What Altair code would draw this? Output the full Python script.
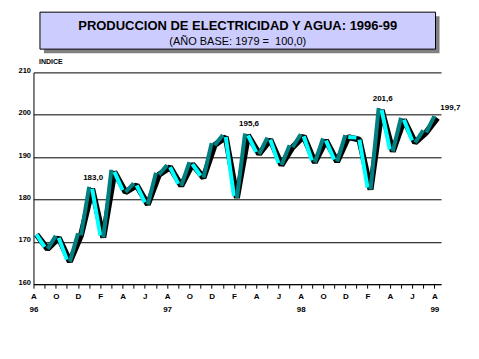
import json
import altair as alt
import pandas as pd

# ---- data ----
values = [172.2, 168.8, 171.4, 165.8, 172.0, 183.0, 171.5, 187.0, 182.2, 183.8,
          179.3, 186.3, 188.1, 183.7, 188.8, 185.6, 193.3, 195.2, 180.8, 195.6,
          191.2, 194.6, 188.6, 192.8, 195.4, 189.2, 194.4, 189.4, 195.2, 194.6,
          182.8, 201.6, 191.8, 199.3, 193.9, 196.3, 199.7]
month_letters = ["A", "S", "O", "N", "D", "E", "F", "M", "A", "M", "J", "J"]  # from August
year_labels = {0: "96", 12: "97", 24: "98", 36: "99"}
y_ticks = [160, 170, 180, 190, 200, 210]
annot_idx = [5, 19, 31]
end_idx = 36

title_text = "PRODUCCION DE ELECTRICIDAD Y AGUA: 1996-99"
subtitle_text = "(AÑO BASE: 1979 = \u00a0100,0)"
y_title = "INDICE"

FONT = "Liberation Sans"
CYAN = "#00FFFF"
TEAL = "#008080"

n = len(values)
pts = pd.DataFrame({"i": list(range(n)), "v": values})
segs = pd.DataFrame({
    "i": list(range(n - 1)),
    "i2": list(range(1, n)),
    "v": values[:-1],
    "v2": values[1:],
    "dir": ["up" if values[k + 1] >= values[k] else "down" for k in range(n - 1)],
})
ann = pd.DataFrame({"i": annot_idx, "v": [values[k] for k in annot_idx],
                    "t": [f"{values[k]:.1f}".replace(".", ",") for k in annot_idx]})
ann_end = pd.DataFrame({"i": [end_idx], "v": [values[end_idx]],
                        "t": [f"{values[end_idx]:.1f}".replace(".", ",")]})

labels = []
for k in range(n):
    if k % 2 == 0:
        letter = month_letters[k % 12]
        if k in year_labels:
            labels.append([letter, year_labels[k]])
        else:
            labels.append(letter)
    else:
        labels.append("")
label_expr = json.dumps(labels) + "[datum.value]"

xscale = alt.Scale(domain=[0, 36.6], nice=False, zero=False)
yscale = alt.Scale(domain=[160, 210], nice=False, zero=False)

xaxis = alt.Axis(values=list(range(n)), labelExpr=label_expr, grid=False,
                 tickSize=4, tickColor="black", domainColor="black",
                 labelFlush=False, labelOverlap=False, labelBound=False,
                 labelPadding=4, labelLineHeight=13, labelFont=FONT, labelFontSize=8,
                 labelFontWeight="bold", labelColor="black", title=None)
yaxis = alt.Axis(values=y_ticks, grid=True, gridColor="black", gridOpacity=1,
                 gridWidth=1, domainColor="black", tickSize=0, labelPadding=3,
                 labelFont=FONT, labelFontSize=7.5, labelFontWeight="bold",
                 labelColor="black", labelBaseline="alphabetic", title=None)


def X(field):
    return alt.X(field, scale=xscale, axis=xaxis)


def Y(field):
    return alt.Y(field, scale=yscale, axis=yaxis)


outline = alt.Chart(pts).mark_line(color="black", strokeWidth=6, strokeJoin="bevel",
                                   xOffset=3, yOffset=2).encode(x=X("i:Q"), y=Y("v:Q"))

ribbon = alt.Chart(segs).mark_rule(strokeWidth=4, strokeCap="butt",
                                   xOffset=3, yOffset=2).encode(
    x=X("i:Q"), x2="i2:Q", y=Y("v:Q"), y2="v2:Q",
    color=alt.Color("dir:N", scale=alt.Scale(domain=["up", "down"], range=[TEAL, CYAN]),
                    legend=None),
)

ann_text = alt.Chart(ann).mark_text(font=FONT, fontSize=8, fontWeight="bold",
                                     color="black", baseline="alphabetic",
                                     dy=-7, dx=4).encode(x=X("i:Q"), y=Y("v:Q"), text="t:N")

end_text = alt.Chart(ann_end).mark_text(font=FONT, fontSize=8, fontWeight="bold",
                                         color="black", baseline="alphabetic",
                                         align="left", dy=-6, dx=6).encode(
    x=X("i:Q"), y=Y("v:Q"), text="t:N")

one = pd.DataFrame({"a": [0]})
shadow = alt.Chart(one).mark_rect(color="#808080").encode(
    x=alt.value(10.5), x2=alt.value(406.5), y=alt.value(-56.3), y2=alt.value(-19.3))
box = alt.Chart(one).mark_rect(fill="#CCCCFF", stroke="black", strokeWidth=1).encode(
    x=alt.value(6.5), x2=alt.value(402.5), y=alt.value(-60.3), y2=alt.value(-23.3))
t1 = alt.Chart(one).mark_text(font=FONT, fontSize=13, fontWeight="bold", color="black",
                              align="center", baseline="alphabetic").encode(
    x=alt.value(204.5), y=alt.value(-42.3), text=alt.value(title_text))
t2 = alt.Chart(one).mark_text(font=FONT, fontSize=11, color="black",
                              align="center", baseline="alphabetic").encode(
    x=alt.value(204.5), y=alt.value(-27.8), text=alt.value(subtitle_text))
t3 = alt.Chart(one).mark_text(font=FONT, fontSize=7, fontWeight="bold", color="black",
                              align="left", baseline="alphabetic").encode(
    x=alt.value(5.5), y=alt.value(-8.3), text=alt.value(y_title))

chart = alt.layer(outline, ribbon, ann_text, end_text, shadow, box, t1, t2, t3).properties(
    width=408, height=212,
    autosize=alt.AutoSizeParams(type="none"),
    padding={"left": 25.5, "top": 64.3, "right": 30, "bottom": 50},
    background="white",
).configure_view(stroke=None).configure_axisX(labelOverlap=False)

chart.save("out.html", embed_options={"renderer": "svg", "actions": False})
